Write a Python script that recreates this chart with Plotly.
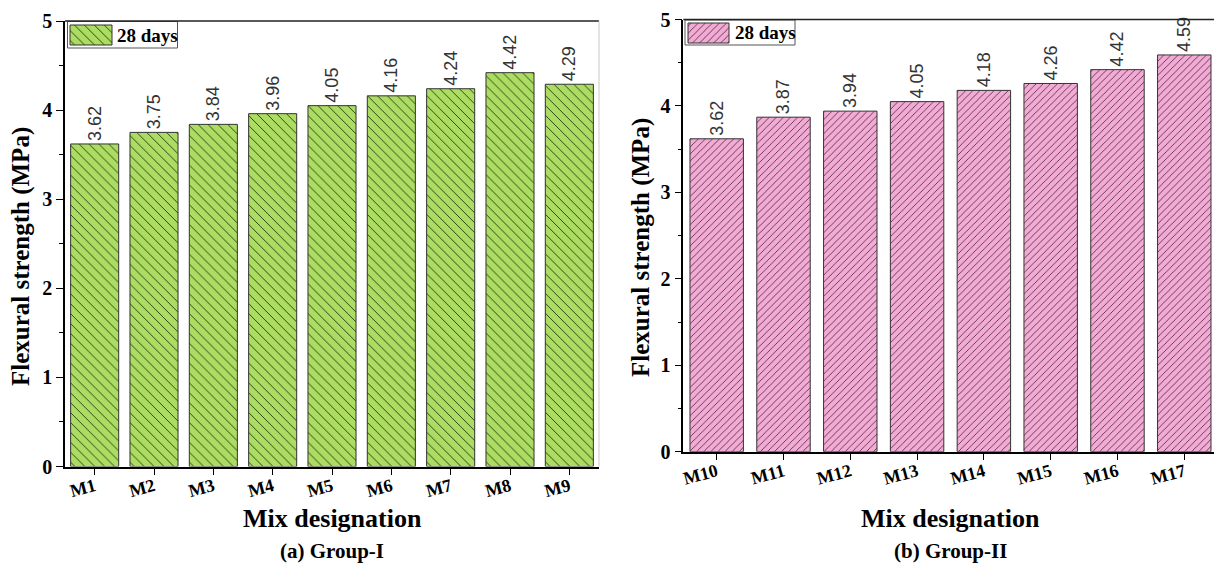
import plotly.graph_objects as go

# Flexural strength at 28 days for the two mix groups
mixes_g1 = ["M1", "M2", "M3", "M4", "M5", "M6", "M7", "M8", "M9"]
strength_g1 = [3.62, 3.75, 3.84, 3.96, 4.05, 4.16, 4.24, 4.42, 4.29]

mixes_g2 = ["M10", "M11", "M12", "M13", "M14", "M15", "M16", "M17"]
strength_g2 = [3.62, 3.87, 3.94, 4.05, 4.18, 4.26, 4.42, 4.59]

series_name = "28 days"
y_ticks = [0, 1, 2, 3, 4, 5]

W, H = 1214, 566
SERIF = "Liberation Serif, Times New Roman, serif"
SANS = "Liberation Sans, Arial, sans-serif"

GREEN = "#acdc62"
GREEN_LINE = "#2a4714"
PINK = "#f2abd4"
PINK_LINE = "#4a2438"

GREEN_PATTERN = dict(shape="\\", size=7, solidity=0.14, fgcolor=GREEN_LINE, fgopacity=1)
PINK_PATTERN = dict(shape="/", size=5, solidity=0.16, fgcolor=PINK_LINE, fgopacity=1)


def px_x(p):
    return p / W


def px_y(p):
    return 1 - p / H


fig = go.Figure()

label_font = dict(family=SANS, size=18, color="#333333")

fig.add_trace(go.Bar(
    x=mixes_g1, y=strength_g1, width=0.81,
    marker=dict(color=GREEN, line=dict(color="#333333", width=1), pattern=GREEN_PATTERN),
    text=[f"{v:.2f}" for v in strength_g1], textposition="outside",
    textangle=-90, constraintext="none", cliponaxis=False, textfont=label_font,
    xaxis="x", yaxis="y", showlegend=False, name=series_name,
))

fig.add_trace(go.Bar(
    x=mixes_g2, y=strength_g2, width=0.8,
    marker=dict(color=PINK, line=dict(color="#333333", width=1), pattern=PINK_PATTERN),
    text=[f"{v:.2f}" for v in strength_g2], textposition="outside",
    textangle=-90, constraintext="none", cliponaxis=False, textfont=label_font,
    xaxis="x2", yaxis="y2", showlegend=False, name=series_name,
))

# Legend swatches drawn on a pixel-space overlay axis so they carry the hatch
fig.add_trace(go.Bar(
    x=[91], y=[20], base=[25], width=[42],
    marker=dict(color=GREEN, line=dict(color="#333333", width=1), pattern=GREEN_PATTERN),
    xaxis="x3", yaxis="y3", showlegend=False, hoverinfo="skip",
))
fig.add_trace(go.Bar(
    x=[708.5], y=[20], base=[23], width=[41],
    marker=dict(color=PINK, line=dict(color="#333333", width=1), pattern=PINK_PATTERN),
    xaxis="x3", yaxis="y3", showlegend=False, hoverinfo="skip",
))

tickfont_y = dict(family=SERIF, size=20, color="black", weight="bold")
tickfont_x = dict(family=SERIF, size=18, color="black", weight="bold")

common_x = dict(type="category", showline=True, linecolor="black", linewidth=1.5,
                ticks="outside", ticklen=7, tickwidth=1.2, tickcolor="black",
                tickangle=-15, tickfont=tickfont_x, ticklabelstandoff=-6,
                showgrid=False, zeroline=False, automargin=False)
common_y = dict(range=[0, 5], tickvals=y_ticks, showline=True, linecolor="black",
                linewidth=1.5, ticks="outside", ticklen=7, tickwidth=1.2,
                tickcolor="black", tickfont=tickfont_y, showgrid=False, zeroline=False,
                automargin=False,
                minor=dict(dtick=0.5, ticks="outside", ticklen=4, tickwidth=1,
                           tickcolor="black", showgrid=False))

fig.update_layout(
    width=W, height=H, margin=dict(l=0, r=0, t=0, b=0, autoexpand=False),
    paper_bgcolor="white", plot_bgcolor="rgba(0,0,0,0)",
    bargap=0.2, showlegend=False,
    xaxis=dict(common_x, domain=[px_x(65), px_x(599)], range=[-0.5, 8.5], anchor="y"),
    yaxis=dict(common_y, domain=[px_y(466.5), px_y(21)], anchor="x"),
    xaxis2=dict(common_x, domain=[px_x(683.3), 1.0], range=[-0.5, 7.445], anchor="y2"),
    yaxis2=dict(common_y, domain=[px_y(451.7), px_y(19.5)], anchor="x2"),
    xaxis3=dict(domain=[0, 1], range=[0, W], visible=False, fixedrange=True,
                anchor="y3", automargin=False),
    yaxis3=dict(domain=[0, 1], range=[H, 0], visible=False, fixedrange=True,
                anchor="x3", automargin=False),
)

shapes = []
# frame: dark top edge, light right edge
shapes.append(dict(type="line", xref="x domain", yref="y domain", x0=0, x1=1, y0=1, y1=1,
                   line=dict(color="#222222", width=1.5)))
shapes.append(dict(type="line", xref="x domain", yref="y domain", x0=1, x1=1, y0=0, y1=1,
                   line=dict(color="#c8c8c8", width=1)))
shapes.append(dict(type="line", xref="x2 domain", yref="y2 domain", x0=0, x1=1, y0=1, y1=1,
                   line=dict(color="#222222", width=1.5)))
# legend boxes
shapes.append(dict(type="rect", xref="paper", yref="paper",
                   x0=px_x(67.5), x1=px_x(177.5), y0=px_y(48), y1=px_y(21.5),
                   line=dict(color="#555555", width=1), layer="below"))
shapes.append(dict(type="rect", xref="paper", yref="paper",
                   x0=px_x(685), x1=px_x(795), y0=px_y(45), y1=px_y(20),
                   line=dict(color="#555555", width=1), layer="below"))
fig.update_layout(shapes=shapes)

ytitle_font = dict(family=SERIF, size=25, color="black", weight="bold")
xtitle_font = dict(family=SERIF, size=26, color="black", weight="bold")
ann_sub = dict(family=SERIF, size=21, color="black", weight="bold")
ann_leg = dict(family=SERIF, size=19, color="black", weight="bold")
annotations = [
    dict(text="Flexural strength (MPa)", x=px_x(21), y=px_y(257), textangle=-90,
         font=ytitle_font),
    dict(text="Flexural strength (MPa)", x=px_x(641), y=px_y(248), textangle=-90,
         font=ytitle_font),
    dict(text="Mix designation", x=px_x(332), y=px_y(518), font=xtitle_font),
    dict(text="Mix designation", x=px_x(950), y=px_y(518), font=xtitle_font),
    dict(text="(a) Group-I", x=px_x(332), y=px_y(551), font=ann_sub),
    dict(text="(b) Group-II", x=px_x(950), y=px_y(551), font=ann_sub),
    dict(text=series_name, x=px_x(115), y=px_y(35), xanchor="left", font=ann_leg),
    dict(text=series_name, x=px_x(733), y=px_y(33), xanchor="left", font=ann_leg),
]
for a in annotations:
    a.update(xref="paper", yref="paper", showarrow=False)
    a.setdefault("xanchor", "center")
    a["yanchor"] = "middle"
fig.update_layout(annotations=annotations)

fig.write_html("out.html")
